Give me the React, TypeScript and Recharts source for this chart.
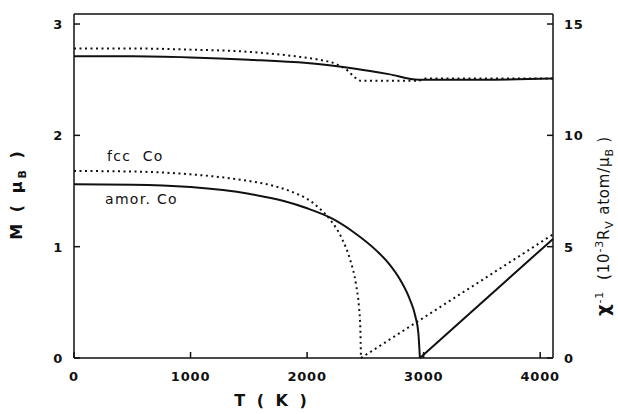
import { LineChart, Line, XAxis, YAxis } from 'recharts';

// upper pair (left axis, M)
const upperSolidT = [0, 500, 1000, 1500, 2000, 2400, 2700, 2960, 3500, 4110];
const upperSolidM = [2.71, 2.71, 2.7, 2.68, 2.65, 2.6, 2.55, 2.5, 2.5, 2.51];
const upperDotT = [0, 500, 1000, 1500, 1900, 2100, 2250, 2350, 2410, 2460, 2960, 3000, 4110];
const upperDotM = [2.78, 2.78, 2.77, 2.75, 2.71, 2.68, 2.64, 2.58, 2.52, 2.49, 2.49, 2.51, 2.51];

// lower pair: fcc Co (dotted) and amor. Co (solid)
const fccT = [0, 500, 1000, 1500, 1700, 1900, 2000, 2100, 2200, 2300, 2370, 2420, 2445, 2457, 2462];
const fccM = [1.68, 1.675, 1.65, 1.59, 1.55, 1.48, 1.43, 1.35, 1.24, 1.07, 0.88, 0.66, 0.46, 0.26, 0];
const amorT = [0, 500, 1000, 1500, 1800, 2000, 2200, 2400, 2600, 2700, 2800, 2880, 2930, 2955, 2968];
const amorM = [1.56, 1.557, 1.535, 1.475, 1.41, 1.345, 1.26, 1.13, 0.96, 0.85, 0.7, 0.53, 0.37, 0.22, 0];

// inverse susceptibility (right axis)
const fccChiT = [2462, 4110];
const fccChi = [0, 5.55];
const amorChiT = [2968, 4110];
const amorChi = [0, 5.35];

const xTicks = [0, 1000, 2000, 3000, 4000];
const mTicks = [0, 1, 2, 3];
const chiTicks = [0, 5, 10, 15];

const toRows = (ts: number[], vs: number[]) => ts.map((t, i) => ({ T: t, v: vs[i] }));

const font = "'DejaVu Sans', sans-serif";
const tickText = { fontFamily: font, fontSize: 13, fontWeight: 600, fill: '#111', letterSpacing: 0.8 };

const BottomTick = ({ x, y, payload }: any) => (
  <g>
    <line x1={x} y1={y} x2={x} y2={y - 6} stroke="#111" strokeWidth={1.5} />
    <text x={x} y={y + 23} textAnchor="middle" {...tickText}>{payload.value}</text>
  </g>
);
const TopTick = ({ x, y }: any) => (
  <line x1={x} y1={y} x2={x} y2={y + 6} stroke="#111" strokeWidth={1.5} />
);
const LeftTick = ({ x, y, payload }: any) => (
  <g>
    <line x1={x} y1={y} x2={x + 6} y2={y} stroke="#111" strokeWidth={1.5} />
    <text x={x - 11} y={y + 5} textAnchor="end" {...tickText}>{payload.value}</text>
  </g>
);
const RightTick = ({ x, y, payload }: any) => (
  <g>
    <line x1={x} y1={y} x2={x - 6} y2={y} stroke="#111" strokeWidth={1.5} />
    <text x={x + 11} y={y + 5} textAnchor="start" {...tickText}>{payload.value}</text>
  </g>
);

const solid = { stroke: '#111', strokeWidth: 2, dot: false, isAnimationActive: false, type: 'monotone' as const };
const dotted = { ...solid, strokeDasharray: '2 3.5' };

export default function App() {
  return (
    <div style={{ position: 'absolute', left: 0, top: 0, width: 618, height: 414, background: '#fff' }}>
      <LineChart width={618} height={414} margin={{ top: 13, right: 0, bottom: 0, left: 0 }}>
        <XAxis xAxisId="b" type="number" dataKey="T" domain={[0, 4110]} ticks={xTicks} interval={0}
          height={56} tickSize={0} tickMargin={0} tick={<BottomTick />} stroke="#111" strokeWidth={1.5} />
        <XAxis xAxisId="t" orientation="top" type="number" dataKey="T" domain={[0, 4110]} ticks={xTicks} interval={0}
          height={1} tickSize={0} tickMargin={0} tick={<TopTick />} stroke="#111" strokeWidth={1.5} />
        <YAxis yAxisId="m" type="number" domain={[0, 3.09]} ticks={mTicks} interval={0} width={74}
          tickSize={0} tickMargin={0} tick={<LeftTick />} stroke="#111" strokeWidth={1.5} />
        <YAxis yAxisId="chi" orientation="right" type="number" domain={[0, 15.45]} ticks={chiTicks} interval={0} width={65}
          tickSize={0} tickMargin={0} tick={<RightTick />} stroke="#111" strokeWidth={1.5} />

        <Line xAxisId="b" yAxisId="m" data={toRows(upperSolidT, upperSolidM)} dataKey="v" {...solid} />
        <Line xAxisId="b" yAxisId="m" data={toRows(upperDotT, upperDotM)} dataKey="v" {...dotted} />
        <Line xAxisId="b" yAxisId="m" data={toRows(amorT, amorM)} dataKey="v" {...solid} />
        <Line xAxisId="b" yAxisId="m" data={toRows(fccT, fccM)} dataKey="v" {...dotted} />
        <Line xAxisId="b" yAxisId="chi" data={toRows(amorChiT, amorChi)} dataKey="v" {...solid} type="linear" />
        <Line xAxisId="b" yAxisId="chi" data={toRows(fccChiT, fccChi)} dataKey="v" {...dotted} type="linear" />
      </LineChart>

      {/* curve labels */}
      <div style={{ position: 'absolute', left: 107, top: 148, fontFamily: font, fontSize: 14, letterSpacing: 1.3, color: '#111' }}>fcc&nbsp;&nbsp;Co</div>
      <div style={{ position: 'absolute', left: 105, top: 191, fontFamily: font, fontSize: 14, letterSpacing: 1.3, color: '#111' }}>amor.&nbsp;Co</div>

      {/* axis titles */}
      <div style={{ position: 'absolute', left: 272, top: 400, transform: 'translate(-50%, -50%)', fontFamily: font, fontSize: 16, fontWeight: 700, letterSpacing: 3, whiteSpace: 'nowrap', color: '#111' }}>
        T&nbsp;(&nbsp;K&nbsp;)
      </div>
      <div style={{ position: 'absolute', left: 18, top: 194, transform: 'translate(-50%, -50%) rotate(-90deg)', fontFamily: font, fontSize: 16, fontWeight: 700, letterSpacing: 3, whiteSpace: 'nowrap', color: '#111' }}>
        M&nbsp;(&nbsp;μ<sub style={{ fontSize: 11 }}>B</sub>&nbsp;)
      </div>
      <div style={{ position: 'absolute', left: 604, top: 226, transform: 'translate(-50%, -50%) rotate(-90deg)', fontFamily: font, fontSize: 15, letterSpacing: 0.8, whiteSpace: 'nowrap', color: '#111' }}>
        <span style={{ fontSize: 18, fontWeight: 700 }}>χ</span><sup style={{ fontSize: 11 }}>-1</sup>&nbsp;&nbsp;(10<sup style={{ fontSize: 11 }}>-3</sup>R<sub style={{ fontSize: 11 }}>V</sub> atom/μ<sub style={{ fontSize: 11 }}>B</sub>&nbsp;)
      </div>
    </div>
  );
}
